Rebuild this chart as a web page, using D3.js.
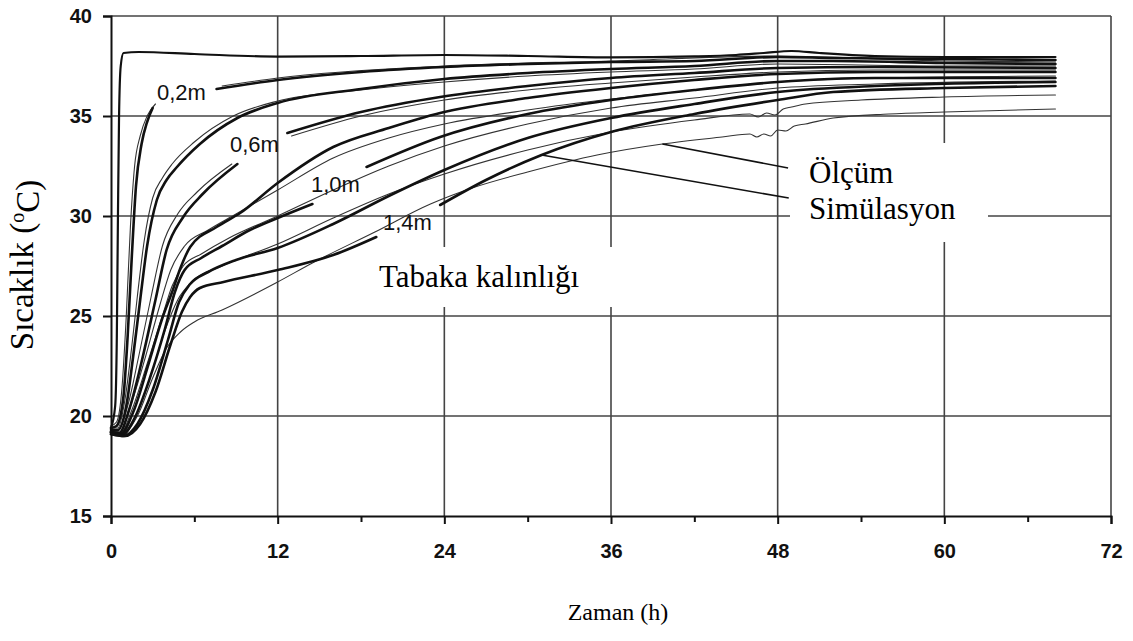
<!DOCTYPE html>
<html><head><meta charset="utf-8">
<script src="https://cdn.jsdelivr.net/npm/d3@7"></script>
<style>
body{margin:0;background:#fff;}
svg{display:block;}
</style></head>
<body>
<svg id="chart" width="1133" height="641"></svg>
<script>
// ---- data (time h, temperature °C); null marks a gap left for a label ----
const xTicks = [0, 12, 24, 36, 48, 60, 72];
const xMinorTicks = [6, 18, 30, 42, 54, 66];
const yTicks = [15, 20, 25, 30, 35, 40];
const curveLabels = ["0,2m", "0,6m", "1,0m", "1,4m"];

const surface = [[0,19.4],[0.3,20.5],[0.42,24],[0.5,30],[0.58,35],[0.7,37.5],[0.9,38.15],[2,38.2],[6,38.1],[12,37.97],[18,38.0],[24,38.05],[30,38.0],[36,37.93],[42,37.98],[45,38.05],[47,38.15],[49,38.25],[51,38.15],[55,38.0],[60,37.95],[68,37.95]];

const sim02 = [[0,19.4],[0.4,19.5],[0.9,21],[1.2,24],[1.5,28],[1.8,31.5],[2.2,33.6],[2.6,34.7],[3,35.4],null,[7.6,36.35],[12,36.8],[18,37.2],[24,37.45],[30,37.6],[36,37.7],[42,37.75],[48,37.95],[52,37.9],[60,37.85],[68,37.8]];
const sim04 = [[0,19.3],[0.5,19.3],[1.1,20.5],[1.6,23],[2.1,25.8],[2.6,28.5],[3.3,30.8],[4,31.8],[4.75,32.45],[6.4,33.6],[9.1,34.9],[12,35.65],[18,36.35],[24,36.85],[30,37.15],[36,37.35],[42,37.5],[48,37.75],[52,37.75],[60,37.65],[68,37.6]];
const sim06 = [[0,19.2],[0.6,19.15],[1.3,20.3],[2.2,22.7],[3.2,25.8],[4,28.3],[5.2,29.95],[6.6,31.1],[9.1,32.6],null,[12.7,34.15],[18,35.2],[23.7,35.95],[30,36.5],[36,36.9],[42,37.15],[48,37.4],[55,37.45],[68,37.4]];
const sim08 = [[0,19.2],[0.7,19.1],[1.6,20.2],[2.7,22.6],[3.7,24.9],[4.4,26.2],[5.0,27.4],[5.7,28.45],[7.6,29.45],[9.3,30.15],[12,31.65],[16,33.45],[20,34.4],[23.7,35.15],[30,35.9],[36,36.4],[42,36.8],[48,37.1],[55,37.2],[68,37.2]];
const sim10 = [[0,19.2],[0.8,19.05],[1.7,19.9],[2.8,21.9],[3.9,24.4],[4.6,26.2],[5.3,27.3],[6.5,27.9],[8,28.5],[10,29.3],[12,29.9],[14.5,30.6],null,[18.4,32.45],[23.7,33.95],[30,35.1],[36,35.8],[42,36.3],[48,36.7],[55,36.9],[68,36.9]];
const sim12 = [[0,19.1],[0.9,19.0],[1.9,19.6],[3.0,21.3],[4.1,23.8],[4.9,25.7],[5.7,26.6],[7,27.2],[9,27.8],[12,28.4],[16,29.6],[20,31.0],[24,32.3],[30,33.9],[36,34.9],[42,35.6],[48,36.2],[55,36.5],[68,36.7]];
const sim14 = [[0,19.1],[1.0,19.0],[2.1,19.6],[3.2,21.2],[4.3,23.6],[5.1,25.2],[5.7,25.95],[6.4,26.4],[8.1,26.7],[12,27.3],[16,28.05],[19.1,28.95],null,[23.7,30.55],[27,31.8],[31,33.05],[36,34.2],[42,35.1],[48,35.8],[52,36.2],[60,36.4],[68,36.5]];

const meas02 = [[0,19.5],[0.4,19.7],[0.8,21.5],[1.1,25],[1.4,29.5],[1.7,32.5],[2.1,34],[2.6,35],[3.2,35.6],null,[8,36.5],[12,36.9],[24,37.5],[36,37.75],[48,38.0],[60,37.75],[68,37.7]];
const meas04 = [[0,19.4],[0.5,19.4],[1.0,20.8],[1.5,23.5],[1.9,26],[2.4,28.8],[3.0,30.9],[3.7,31.9],[4.4,32.6],[6,33.7],[8.8,35],[12,35.75],[18,36.3],[24,36.7],[30,37.0],[36,37.2],[42,37.35],[48,37.6],[60,37.5],[68,37.5]];
const meas06 = [[0,19.3],[0.5,19.3],[1.2,20.5],[2.0,23],[2.9,26],[3.7,28.5],[4.8,30.1],[6.2,31.2],[8.7,32.6],null,[13,34.0],[18,35.0],[24,35.8],[30,36.3],[36,36.65],[42,36.95],[48,37.2],[55,37.3],[68,37.3]];
const meas08 = [[0,19.3],[0.6,19.2],[1.4,20.5],[2.5,23],[3.5,25.5],[4.3,27.3],[5.3,28.5],[7,29.3],[9,30.1],[12,31.3],[16,32.9],[20,33.9],[24,34.6],[30,35.3],[36,35.85],[42,36.3],[48,36.7],[55,36.9],[68,37.0]];
const meas10 = [[0,19.3],[0.7,19.15],[1.5,20.3],[2.6,22.6],[3.7,25],[4.4,26.5],[5.2,27.5],[6.5,28.1],[8.5,28.9],[12,30.0],[16,31.3],[20,32.5],[24,33.5],[30,34.6],[36,35.4],[42,35.9],[48,36.4],[55,36.6],[68,36.75]];
const meas12 = [[0,19.3],[0.8,19.1],[1.7,19.9],[2.8,21.9],[3.9,24.3],[4.8,25.8],[5.8,26.7],[8,27.5],[12,28.6],[16,29.9],[20,31.1],[24,32.1],[30,33.3],[36,34.2],[42,34.8],[46,35.1],[46.6,34.95],[47.2,35.15],[47.8,35.05],[48.4,35.35],[49,35.45],[50,35.6],[54,35.8],[60,35.95],[68,36.05]];
const meas14 = [[0,19.3],[0.9,19.15],[1.9,20.0],[3.0,21.9],[4.0,23.4],[5,24.2],[6,24.7],[8,25.3],[12,26.7],[14.5,27.65],[19,29.2],[23,30.6],[26,31.4],[30,32.2],[35,33.05],[39.7,33.6],[44,33.95],[46,34.1],[46.5,33.95],[47,34.1],[47.5,34.0],[48,34.3],[48.6,34.25],[49.2,34.5],[50,34.6],[52,34.9],[56,35.1],[60,35.2],[68,35.35]];

const simSeries = [sim02, sim04, sim06, sim08, sim10, sim12, sim14];
const measSeries = [meas02, meas04, meas06, meas08, meas10, meas12, meas14];

// ---- layout ----
const svg = d3.select("#chart");
const x = d3.scaleLinear().domain([0, 72]).range([111, 1111]);
const y = d3.scaleLinear().domain([15, 40]).range([516, 16]);

// grid
const grid = svg.append("g");
grid.selectAll("line.h").data(yTicks.filter(v => v > 15)).join("line")
  .attr("x1", x(0)).attr("x2", x(72)).attr("y1", d => y(d)).attr("y2", d => y(d))
  .attr("stroke", "#444").attr("stroke-width", 1.6);
grid.selectAll("line.v").data(xTicks.filter(v => v > 0)).join("line")
  .attr("x1", d => x(d)).attr("x2", d => x(d)).attr("y1", y(40)).attr("y2", y(15))
  .attr("stroke", "#444").attr("stroke-width", 1.6);

// white annotation boxes covering the grid
svg.append("rect").attr("x", 357).attr("y", 247).attr("width", 255).attr("height", 60).attr("fill", "#fff");
svg.append("rect").attr("x", 790).attr("y", 143).attr("width", 198).attr("height", 99).attr("fill", "#fff");

// axes
const sans = "Arial, 'Liberation Sans', sans-serif";
const xAxis = d3.axisBottom(x).tickValues(xTicks).tickSize(8).tickFormat(d3.format("d"));
const gx = svg.append("g").attr("transform", `translate(0,${y(15)})`).call(xAxis);
gx.select(".domain").attr("stroke", "#111").attr("stroke-width", 2);
gx.selectAll(".tick line").attr("stroke", "#111").attr("stroke-width", 2);
gx.selectAll(".tick text").attr("dy", "1.55em")
  .style("font-family", sans).style("font-weight", "bold").style("font-size", "20px").attr("fill", "#111");
const xMinor = d3.axisBottom(x).tickValues(xMinorTicks).tickSize(6).tickFormat("");
const gxm = svg.append("g").attr("transform", `translate(0,${y(15)})`).call(xMinor);
gxm.select(".domain").remove();
gxm.selectAll(".tick line").attr("stroke", "#111").attr("stroke-width", 2);

const yAxis = d3.axisLeft(y).tickValues(yTicks).tickSize(8).tickFormat(d3.format("d"));
const gy = svg.append("g").attr("transform", `translate(${x(0)},0)`).call(yAxis);
gy.select(".domain").attr("stroke", "#111").attr("stroke-width", 2);
gy.selectAll(".tick line").attr("stroke", "#111").attr("stroke-width", 2);
gy.selectAll(".tick text").attr("dx", "-0.4em")
  .style("font-family", sans).style("font-weight", "bold").style("font-size", "20px").attr("fill", "#111");

// curves
const line = d3.line().defined(d => d !== null).x(d => x(d[0])).y(d => y(d[1])).curve(d3.curveMonotoneX);
const curves = svg.append("g").attr("fill", "none").attr("stroke-linejoin", "round").attr("stroke-linecap", "round");
curves.selectAll("path.meas").data(measSeries).join("path").attr("class", "meas")
  .attr("d", line).attr("stroke", "#333").attr("stroke-width", 1.1);
curves.selectAll("path.sim").data(simSeries).join("path").attr("class", "sim")
  .attr("d", line).attr("stroke", "#111").attr("stroke-width", 2.6);
curves.append("path").datum(surface).attr("d", line).attr("stroke", "#111").attr("stroke-width", 2.2);

// curve labels
const labelPos = [[157,100],[230,152],[311,192],[383,230]];
svg.selectAll("text.cl").data(curveLabels).join("text").attr("class", "cl")
  .attr("x", (d, i) => labelPos[i][0]).attr("y", (d, i) => labelPos[i][1])
  .style("font-family", sans).style("font-size", "22px").attr("fill", "#111")
  .text(d => d);

// leaders
const leaders = [[[39.7,33.6],[48.75,32.4]], [[31,33.05],[48.8,30.9]]];
svg.selectAll("line.lead").data(leaders).join("line").attr("class", "lead")
  .attr("x1", d => x(d[0][0])).attr("y1", d => y(d[0][1])).attr("x2", d => x(d[1][0])).attr("y2", d => y(d[1][1]))
  .attr("stroke", "#111").attr("stroke-width", 1.6);

// annotation texts
const serif = "'Times New Roman', 'Liberation Serif', serif";
svg.append("text").attr("x", 379).attr("y", 287).style("font-family", serif).style("font-size", "31px").text("Tabaka kalınlığı");
svg.append("text").attr("x", 809).attr("y", 183).style("font-family", serif).style("font-size", "31px").text("Ölçüm");
svg.append("text").attr("x", 809).attr("y", 219).style("font-family", serif).style("font-size", "31px").text("Simülasyon");

// axis titles
svg.append("text").attr("x", 618).attr("y", 620).attr("text-anchor", "middle")
  .style("font-family", serif).style("font-size", "24px").text("Zaman (h)");
const yt = svg.append("text").attr("transform", "translate(33,265) rotate(-90)").attr("text-anchor", "middle")
  .style("font-family", serif).style("font-size", "33px");
yt.append("tspan").text("Sıcaklık (");
yt.append("tspan").attr("dy", "-0.45em").style("font-size", "20px").text("o");
yt.append("tspan").attr("dy", "0.45em").text("C)");
</script>
</body></html>
